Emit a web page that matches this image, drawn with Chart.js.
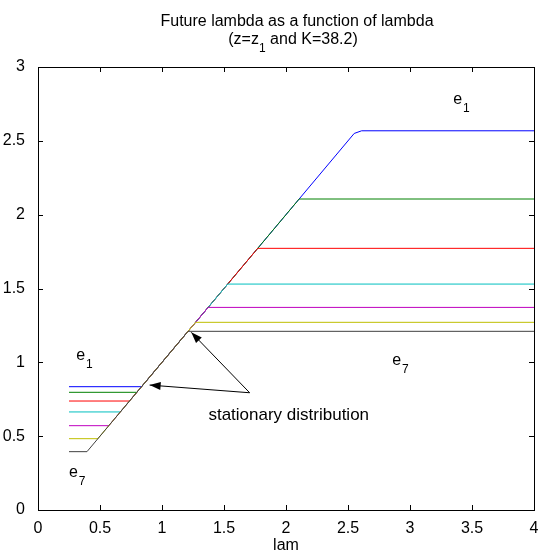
<!DOCTYPE html>
<html>
<head>
<meta charset="utf-8">
<script src="https://cdn.jsdelivr.net/npm/chart.js@4.4.1/dist/chart.umd.min.js"></script>
<style>
    html, body { margin: 0; padding: 0; background: #fff; }
    #wrap { width: 538px; height: 553px; }
</style>
</head>
<body>
<div id="wrap"><canvas id="lamChart" width="538" height="553"></canvas></div>
<script>
// Значения: [lam, будущая lambda]
const seriesNames = ['e1', 'e2', 'e3', 'e4', 'e5', 'e6', 'e7'];
const e1 = [[0.25, 0.835], [0.835, 0.835], [2.55, 2.55], [2.61, 2.568], [4, 2.568]];
const e2 = [[0.25, 0.797], [0.797, 0.797], [2.106, 2.106], [4, 2.106]];
const e3 = [[0.25, 0.738], [0.738, 0.738], [1.772, 1.772], [4, 1.772]];
const e4 = [[0.25, 0.664], [0.664, 0.664], [1.530, 1.530], [4, 1.530]];
const e5 = [[0.25, 0.571], [0.571, 0.571], [1.372, 1.372], [4, 1.372]];
const e6 = [[0.25, 0.483], [0.483, 0.483], [1.271, 1.271], [4, 1.271]];
const e7 = [[0.25, 0.395], [0.395, 0.395], [1.210, 1.210], [4, 1.210]];
const seriesData = [e1, e2, e3, e4, e5, e6, e7];

const xTicks = [0, 0.5, 1, 1.5, 2, 2.5, 3, 3.5, 4];
const yTicks = [0, 0.5, 1, 1.5, 2, 2.5, 3];

// цвета в стиле MATLAB
const seriesColors = ['#0000ff', '#008000', '#ff0000', '#00bfbf', '#bf00bf', '#bfbf00', '#404040'];

const FONT = '"Liberation Sans", Arial, Helvetica, sans-serif';

// подписи e1/e7 и стрелки (в координатах данных)
const eLabels = [
    { sub: '1', x: 0.308, y: 1.016 },
    { sub: '7', x: 0.249, y: 0.225 },
    { sub: '1', x: 3.348, y: 2.749 },
    { sub: '7', x: 2.856, y: 0.982 }
];
const arrowTail = [1.707, 0.794];
const arrowTips = [[0.900, 0.846], [1.236, 1.203]];
const noteText = { text: 'stationary distribution', x: 2.022, y: 0.609 };

function textWithSub(ctx, base, sub, x, y, size) {
    ctx.font = size + 'px ' + FONT;
    ctx.fillText(base, x, y);
    const w = ctx.measureText(base).width;
    ctx.font = Math.round(size * 0.75) + 'px ' + FONT;
    ctx.fillText(sub, x + w + 1, y + 8);
}

function drawArrow(ctx, x0, y0, x1, y1) {
    ctx.beginPath();
    ctx.moveTo(x0, y0);
    ctx.lineTo(x1, y1);
    ctx.stroke();
    const a = Math.atan2(y1 - y0, x1 - x0);
    const len = 11, half = 4;
    const bx = x1 - len * Math.cos(a), by = y1 - len * Math.sin(a);
    ctx.beginPath();
    ctx.moveTo(x1, y1);
    ctx.lineTo(bx + half * Math.sin(a), by - half * Math.cos(a));
    ctx.lineTo(bx - half * Math.sin(a), by + half * Math.cos(a));
    ctx.closePath();
    ctx.fill();
}

const matlabAxes = {
    id: 'matlabAxes',
    afterDatasetsDraw(chart) {
        const ctx = chart.ctx;
        const area = chart.chartArea;
        const xs = chart.scales.x, ys = chart.scales.y;
        ctx.save();
        ctx.strokeStyle = '#000';
        ctx.fillStyle = '#000';
        ctx.lineWidth = 1;

        // рамка
        ctx.strokeRect(Math.round(area.left) + 0.5, Math.round(area.top) + 0.5,
            Math.round(area.right - area.left), Math.round(area.bottom - area.top));

        // засечки внутрь со всех сторон
        const tl = 5;
        ctx.beginPath();
        xTicks.forEach(v => {
            const px = Math.round(xs.getPixelForValue(v)) + 0.5;
            ctx.moveTo(px, area.bottom); ctx.lineTo(px, area.bottom - tl);
            ctx.moveTo(px, area.top); ctx.lineTo(px, area.top + tl);
        });
        yTicks.forEach(v => {
            const py = Math.round(ys.getPixelForValue(v)) + 0.5;
            ctx.moveTo(area.left, py); ctx.lineTo(area.left + tl, py);
            ctx.moveTo(area.right, py); ctx.lineTo(area.right - tl, py);
        });
        ctx.stroke();

        // стрелки
        const tx = xs.getPixelForValue(arrowTail[0]), ty = ys.getPixelForValue(arrowTail[1]);
        arrowTips.forEach(t => {
            drawArrow(ctx, tx, ty, xs.getPixelForValue(t[0]), ys.getPixelForValue(t[1]));
        });

        // текст
        ctx.textAlign = 'left';
        ctx.textBaseline = 'alphabetic';
        eLabels.forEach(l => {
            textWithSub(ctx, 'e', l.sub, xs.getPixelForValue(l.x), ys.getPixelForValue(l.y), 16);
        });
        ctx.font = '17px ' + FONT;
        ctx.textAlign = 'center';
        ctx.fillText(noteText.text, xs.getPixelForValue(noteText.x), ys.getPixelForValue(noteText.y));

        // подпись оси x
        ctx.font = '16px ' + FONT;
        ctx.textBaseline = 'middle';
        ctx.fillText('lam', (area.left + area.right) / 2, area.bottom + 36);

        // заголовок
        ctx.textBaseline = 'alphabetic';
        ctx.fillText('Future lambda as a function of lambda', 297, 26);
        ctx.textAlign = 'left';
        const p1 = '(z=z', p2 = ' and K=38.2)';
        const w1 = ctx.measureText(p1).width, w3 = ctx.measureText(p2).width;
        ctx.font = '12px ' + FONT;
        const w2 = ctx.measureText('1').width;
        let x = 293 - (w1 + w2 + w3) / 2;
        ctx.font = '16px ' + FONT;
        ctx.fillText(p1, x, 44);
        ctx.font = '12px ' + FONT;
        ctx.fillText('1', x + w1, 52);
        ctx.font = '16px ' + FONT;
        ctx.fillText(p2, x + w1 + w2, 44);
        ctx.restore();
    }
};

const ctx = document.getElementById('lamChart').getContext('2d');
const chart = new Chart(ctx, {
    type: 'scatter',
    data: {
        datasets: seriesData.map((s, i) => ({
            label: seriesNames[i],
            data: s.map(p => ({ x: p[0], y: p[1] })),
            showLine: true,
            borderColor: seriesColors[i],
            backgroundColor: seriesColors[i],
            borderWidth: 1,
            pointRadius: 0,
            tension: 0,
            order: seriesData.length - i
        }))
    },
    options: {
        responsive: false,
        animation: false,
        layout: { padding: { left: 0, top: 67, right: 4, bottom: 0 } },
        plugins: {
            legend: { display: false },
            tooltip: { enabled: false }
        },
        scales: {
            x: {
                type: 'linear',
                min: 0,
                max: 4,
                afterBuildTicks: scale => { scale.ticks = xTicks.map(v => ({ value: v })); },
                grid: { display: false },
                border: { display: false },
                ticks: {
                    color: '#000', font: { family: FONT, size: 16 }, padding: 1,
                    maxRotation: 0, autoSkip: false, callback: v => String(v)
                },
                afterFit: scale => {
                    scale.height = 43;
                    scale.paddingLeft = 0;
                    scale.paddingRight = 0;
                }
            },
            y: {
                type: 'linear',
                min: 0,
                max: 3,
                afterBuildTicks: scale => { scale.ticks = yTicks.map(v => ({ value: v })); },
                grid: { display: false },
                border: { display: false },
                ticks: {
                    color: '#000', font: { family: FONT, size: 16 }, padding: 5,
                    autoSkip: false, callback: v => String(v)
                },
                afterFit: scale => {
                    scale.width = 38;
                    scale.paddingTop = 0;
                    scale.paddingBottom = 0;
                }
            }
        }
    },
    plugins: [matlabAxes]
});
</script>
</body>
</html>
